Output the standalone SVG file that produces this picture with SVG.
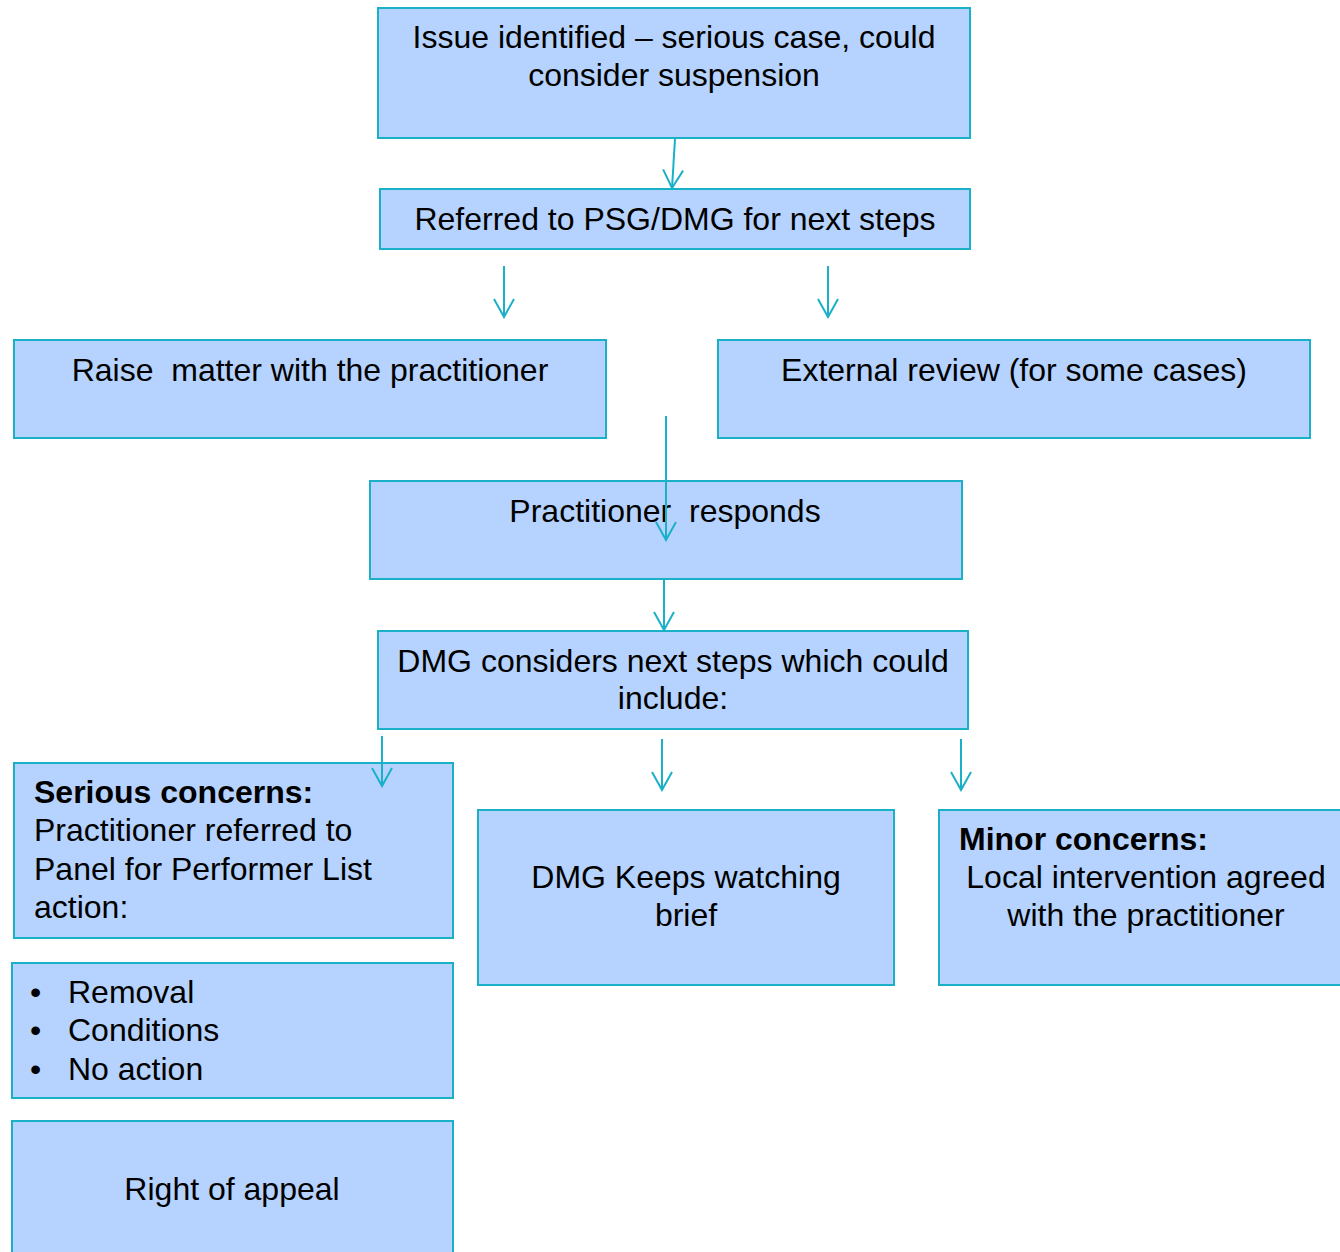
<svg xmlns="http://www.w3.org/2000/svg" width="1340" height="1252" viewBox="0 0 1340 1252">
<defs>
<style>
.box{fill:#B5D3FE;stroke:#1AB0C8;stroke-width:2}
.t{font-family:"Liberation Sans",Arial,sans-serif;font-size:32px;fill:#000}
.c{text-anchor:middle}
.b{font-weight:bold}
.con{stroke:#1AB0C8;stroke-width:2;fill:none}
</style>
<marker id="ah" markerUnits="userSpaceOnUse" markerWidth="22" markerHeight="22" refX="20" refY="11" orient="auto" viewBox="0 0 22 22">
<path d="M2,1 L20,11 L2,21" fill="none" stroke="#1AB0C8" stroke-width="2"/>
</marker>
</defs>
<rect width="1340" height="1252" fill="#fff"/>
<g id="n1"><rect class="box" x="378" y="8" width="592" height="130"/>
<text class="t c" x="674" y="48">Issue identified – serious case, could</text>
<text class="t c" x="674" y="86">consider suspension</text></g>
<g id="n2"><rect class="box" x="380" y="189" width="590" height="60"/>
<text class="t c" x="675" y="230">Referred to PSG/DMG for next steps</text></g>
<g id="n3"><rect class="box" x="14" y="340" width="592" height="98"/>
<text class="t c" x="310" y="381" xml:space="preserve">Raise  matter with the practitioner</text></g>
<g id="n4"><rect class="box" x="718" y="340" width="592" height="98"/>
<text class="t c" x="1014" y="381">External review (for some cases)</text></g>
<g id="n5"><rect class="box" x="370" y="481" width="592" height="98"/>
<text class="t c" x="665" y="522" xml:space="preserve">Practitioner  responds</text></g>
<g id="n6"><rect class="box" x="378" y="631" width="590" height="98"/>
<text class="t c" x="673" y="672">DMG considers next steps which could</text>
<text class="t c" x="673" y="709">include:</text></g>
<g id="n7"><rect class="box" x="14" y="763" width="439" height="175"/>
<text class="t b" x="34" y="803">Serious concerns:</text>
<text class="t" x="34" y="841">Practitioner referred to</text>
<text class="t" x="34" y="880">Panel for Performer List</text>
<text class="t" x="34" y="918">action:</text></g>
<g id="n8"><rect class="box" x="478" y="810" width="416" height="175"/>
<text class="t c" x="686" y="888">DMG Keeps watching</text>
<text class="t c" x="686" y="926">brief</text></g>
<g id="n9"><rect class="box" x="939" y="810" width="410" height="175"/>
<text class="t b" x="959" y="850">Minor concerns:</text>
<text class="t c" x="1146" y="888">Local intervention agreed</text>
<text class="t c" x="1146" y="926">with the practitioner</text></g>
<g id="n10"><rect class="box" x="12" y="963" width="441" height="135"/>
<text class="t" x="30" y="1003">•</text><text class="t" x="68" y="1003">Removal</text>
<text class="t" x="30" y="1041">•</text><text class="t" x="68" y="1041">Conditions</text>
<text class="t" x="30" y="1080">•</text><text class="t" x="68" y="1080">No action</text></g>
<g id="n11"><rect class="box" x="12" y="1121" width="441" height="140"/>
<text class="t c" x="232" y="1200">Right of appeal</text></g>
<g id="connectors">
<line class="con" x1="675" y1="139" x2="672" y2="188" marker-end="url(#ah)"/>
<line class="con" x1="504" y1="266" x2="504" y2="317" marker-end="url(#ah)"/>
<line class="con" x1="828" y1="266" x2="828" y2="317" marker-end="url(#ah)"/>
<line class="con" x1="666" y1="416" x2="666" y2="540" marker-end="url(#ah)"/>
<line class="con" x1="664" y1="580" x2="664" y2="630" marker-end="url(#ah)"/>
<line class="con" x1="382" y1="736" x2="382" y2="786" marker-end="url(#ah)"/>
<line class="con" x1="662" y1="739" x2="662" y2="790" marker-end="url(#ah)"/>
<line class="con" x1="961" y1="739" x2="961" y2="790" marker-end="url(#ah)"/>
</g>
</svg>
